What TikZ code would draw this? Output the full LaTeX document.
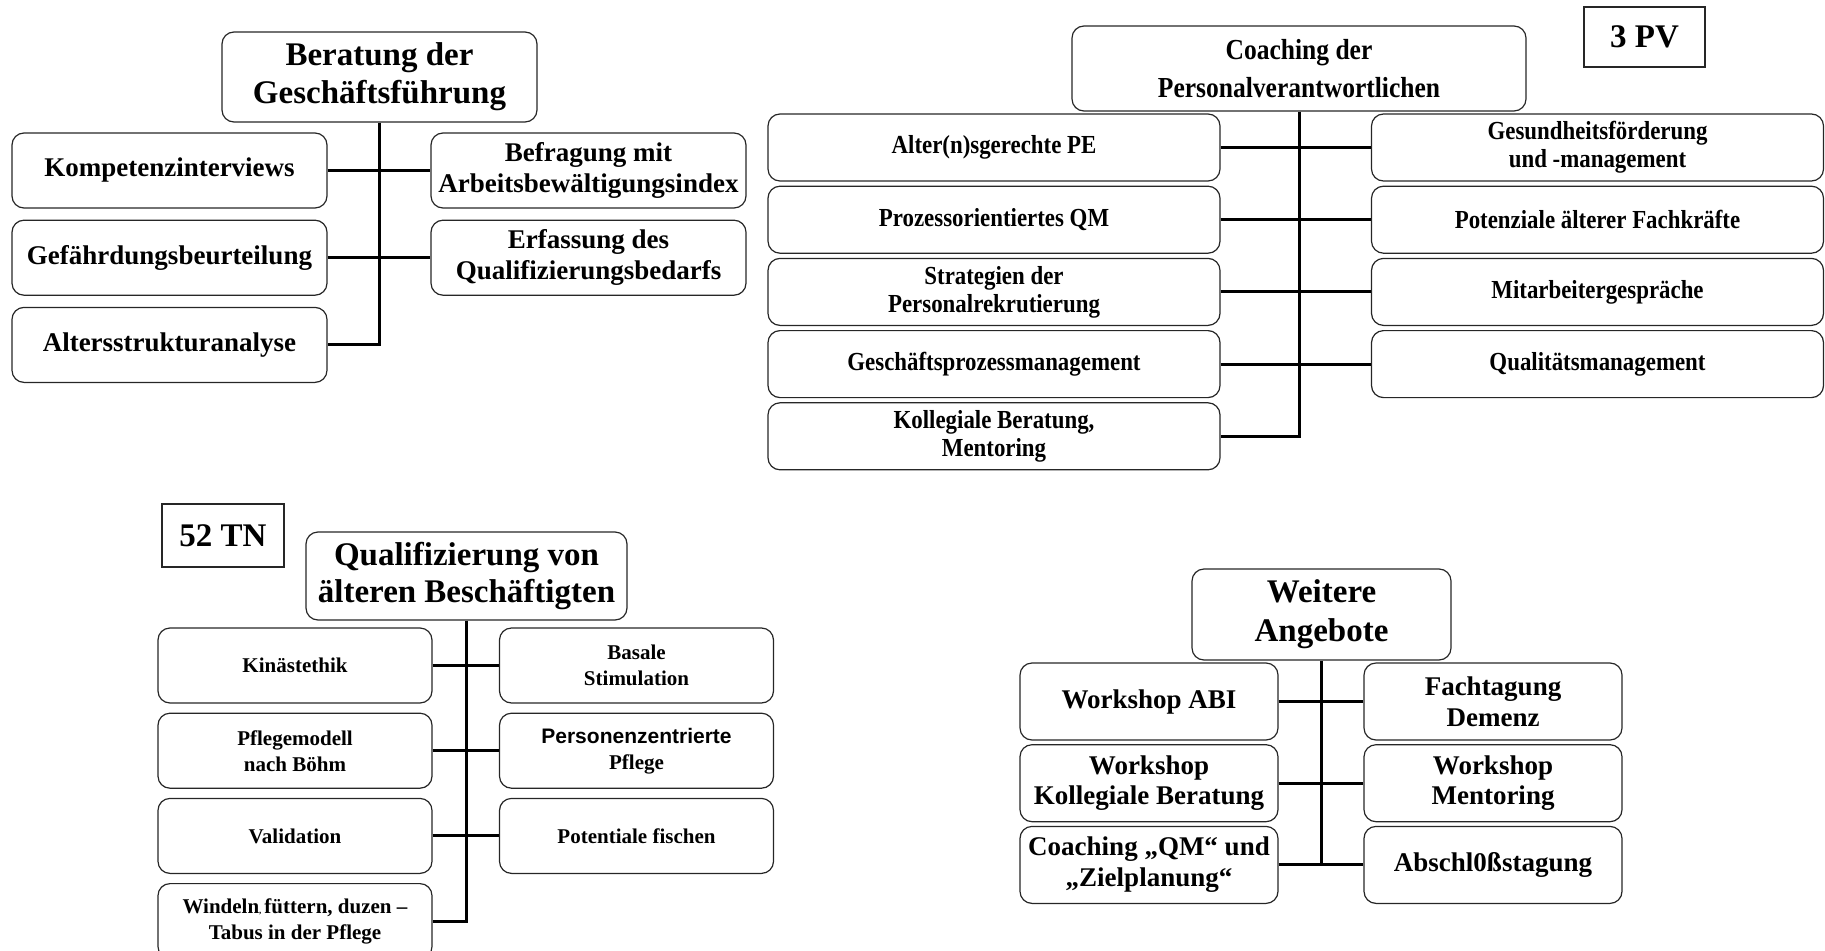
\documentclass[tikz,border=0pt]{standalone}
\usepackage{xcolor}
\usepackage{tikz}
\usepackage{fontspec}
\setmainfont{Liberation Serif}
\newfontfamily\pvfont[FakeStretch=0.88]{Liberation Serif}
\newfontfamily\comicfont{Liberation Sans}
\usetikzlibrary{shapes,arrows,positioning}

\begin{document}
\begin{tikzpicture}[x=1pt, y=-1pt,
  box/.style={draw=black!85, line width=1.2pt, rounded corners=12pt, align=center, inner sep=0pt},
  bar/.style={line width=3pt},
  tag/.style={draw=black!85, line width=1.2pt, inner sep=0pt, font=\fontsize{33}{38}\selectfont\bfseries},
  gftitle/.style={box, minimum width=315pt, minimum height=90pt, font=\fontsize{33}{38}\selectfont\bfseries},
  gfitem/.style={box, minimum width=315pt, minimum height=75pt, font=\fontsize{27}{31.5}\selectfont\bfseries},
  pvtitle/.style={box, minimum width=454pt, minimum height=85pt, font=\pvfont\bfseries\fontsize{29}{38}\selectfont},
  pvitem/.style={box, minimum width=452pt, minimum height=67pt, font=\pvfont\bfseries\fontsize{26}{28}\selectfont},
  tntitle/.style={box, minimum width=321pt, minimum height=88pt, font=\fontsize{33}{37}\selectfont\bfseries},
  tnitem/.style={box, minimum width=274pt, minimum height=75pt, font=\fontsize{21}{26}\selectfont\bfseries},
  wtitle/.style={box, minimum width=259pt, minimum height=91pt, font=\fontsize{33}{39}\selectfont\bfseries},
  witem/.style={box, minimum width=258pt, minimum height=77pt, font=\fontsize{27}{30.7}\selectfont\bfseries}]
\useasboundingbox (0,0) rectangle (1825,950);

\node[gftitle] (ber) at (379.5,77) {Beratung der\\Geschäftsführung};
\node[gfitem] (ber-l1) at (169.5,170.5) {Kompetenzinterviews};
\node[gfitem, below=11pt of ber-l1] (ber-l2) {Gefährdungsbeurteilung};
\node[gfitem, below=11pt of ber-l2] (ber-l3) {Altersstrukturanalyse};
\node[gfitem] (ber-r1) at (588.5,170.5) {Befragung mit\\Arbeitsbewältigungsindex};
\node[gfitem, below=11pt of ber-r1] (ber-r2) {Erfassung des\\Qualifizierungsbedarfs};
\draw[bar] (ber.south) |- (ber-l3.east);
\foreach \i in {1,2} \draw[bar] (ber-l\i.east) -- (ber-r\i.west);

\node[pvtitle] (coa) at (1299,68.5) {Coaching der\\Personalverantwortlichen};
\node[tag, minimum width=121pt, minimum height=60pt] (pv) at (1644.5,37) {3 PV};
\node[pvitem] (coa-l1) at (994,147.5) {Alter(n)sgerechte PE};
\node[pvitem, below=4pt of coa-l1] (coa-l2) {Prozessorientiertes QM};
\node[pvitem, below=4pt of coa-l2] (coa-l3) {Strategien der\\Personalrekrutierung};
\node[pvitem, below=4pt of coa-l3] (coa-l4) {Geschäftsprozessmanagement};
\node[pvitem, below=4pt of coa-l4] (coa-l5) {Kollegiale Beratung,\\Mentoring};
\node[pvitem] (coa-r1) at (1597.5,147.5) {Gesundheitsförderung\\und -management};
\node[pvitem, below=4pt of coa-r1] (coa-r2) {Potenziale älterer Fachkräfte};
\node[pvitem, below=4pt of coa-r2] (coa-r3) {Mitarbeitergespräche};
\node[pvitem, below=4pt of coa-r3] (coa-r4) {Qualitätsmanagement};
\draw[bar] (coa.south) |- (coa-l5.east);
\foreach \i in {1,...,4} \draw[bar] (coa-l\i.east) -- (coa-r\i.west);

\node[tntitle] (qua) at (466.5,576) {Qualifizierung von\\älteren Beschäftigten};
\node[tag, minimum width=122pt, minimum height=63pt] (tn) at (223,535.5) {52 TN};
\node[tnitem] (qua-l1) at (295,665.5) {Kinästethik};
\node[tnitem, below=9pt of qua-l1] (qua-l2) {Pflegemodell\\nach Böhm};
\node[tnitem, below=9pt of qua-l2] (qua-l3) {Validation};
\node[tnitem, below=9pt of qua-l3] (qua-l4) {Windeln{\fontsize{9}{9}\selectfont,}\hspace{3pt}füttern, duzen --\\Tabus in der Pflege};
\node[tnitem] (qua-r1) at (636.5,665.5) {Basale\\Stimulation};
\node[tnitem, below=9pt of qua-r1] (qua-r2) {{\comicfont Personenzentrierte}\\Pflege};
\node[tnitem, below=9pt of qua-r2] (qua-r3) {Potentiale fischen};
\draw[bar] (qua.south) |- (qua-l4.east);
\foreach \i in {1,2,3} \draw[bar] (qua-l\i.east) -- (qua-r\i.west);

\node[wtitle] (wei) at (1321.5,614.5) {Weitere\\Angebote};
\node[witem] (wei-l1) at (1149,701.5) {Workshop ABI};
\node[witem, below=3.5pt of wei-l1] (wei-l2) {Workshop\\Kollegiale Beratung};
\node[witem, below=3.5pt of wei-l2] (wei-l3) {Coaching „QM“ und\\„Zielplanung“};
\node[witem] (wei-r1) at (1493,701.5) {Fachtagung\\Demenz};
\node[witem, below=3.5pt of wei-r1] (wei-r2) {Workshop\\Mentoring};
\node[witem, below=3.5pt of wei-r2] (wei-r3) {Abschl0ßstagung};
\draw[bar] (wei.south) |- (wei-l3.east);
\foreach \i in {1,2,3} \draw[bar] (wei-l\i.east) -- (wei-r\i.west);
\end{tikzpicture}
\end{document}
